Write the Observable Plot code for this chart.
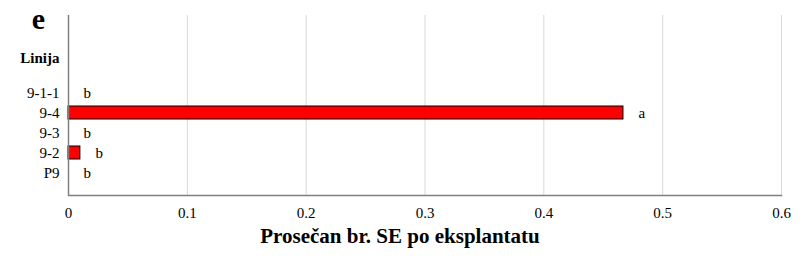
<!DOCTYPE html>
<html>
<head>
<meta charset="utf-8">
<script src="https://cdn.jsdelivr.net/npm/d3@7"></script>
<script src="https://cdn.jsdelivr.net/npm/@observablehq/plot@0.6"></script>
<style>
  html, body { margin: 0; padding: 0; background: #fff; }
  #chart svg { display: block; }
  #chart svg, #chart svg text { font-family: "Liberation Serif", "Times New Roman", serif !important; }
</style>
</head>
<body>
<div id="chart"></div>
<script>
const lines = ["9-1-1", "9-4", "9-3", "9-2", "P9"];
const values = [0, 0.467, 0, 0.01, 0];
const letters = ["b", "a", "b", "b", "b"];
const xTicks = [0, 0.1, 0.2, 0.3, 0.4, 0.5, 0.6];
const gridTicks = [0.1, 0.2, 0.3, 0.4, 0.5, 0.6];
const panelLabel = "e";
const yTitle = "Linija";
const xTitle = "Prosečan br. SE po eksplantatu";

const data = lines.map((l, i) => ({line: l, value: values[i], letter: letters[i]}));
const font = "Liberation Serif";

const chart = Plot.plot({
  width: 800,
  height: 267,
  marginLeft: 68,
  marginRight: 19,
  marginTop: 15,
  marginBottom: 72,
  style: {fontFamily: font, fontSize: "15px", color: "#000", background: "#fff"},
  x: {domain: [0, 0.6], ticks: xTicks, tickFormat: d => String(d), label: null},
  y: {domain: lines, range: [77, 188], padding: 0.37, label: null},
  marks: [
    Plot.ruleX(gridTicks, {stroke: "#d9d9d9", strokeWidth: 1}),
    Plot.barX(data, {y: "line", x: "value", fill: "#ff0000", stroke: "#000", strokeWidth: 1}),
    Plot.text(data, {y: "line", x: "value", text: "letter", dx: 15, textAnchor: "start", fontSize: 15, fontFamily: font, fill: "#000"}),
    Plot.ruleX([0], {stroke: "#808080", strokeWidth: 1.5}),
    Plot.frame({anchor: "bottom", stroke: "#808080", strokeWidth: 1.5}),
    Plot.axisX({ticks: xTicks, tickSize: 0, tickPadding: 12, fontSize: 15, fontFamily: font, tickFormat: d => String(d), label: null}),
    Plot.axisY({tickSize: 0, tickPadding: 9, fontSize: 15, fontFamily: font, label: null}),
    Plot.text([panelLabel], {frameAnchor: "top-left", dx: -30, dy: -8, textAnchor: "middle", fontSize: 30, fontWeight: "bold", fontFamily: font}),
    Plot.text([yTitle], {frameAnchor: "top-left", dx: -9, dy: 37, textAnchor: "end", fontSize: 15, fontWeight: "bold", fontFamily: font}),
    Plot.text([xTitle], {frameAnchor: "bottom", dx: -25, dy: 47, fontSize: 21, fontWeight: "bold", fontFamily: font})
  ]
});
document.getElementById("chart").appendChild(chart);
</script>
</body>
</html>
